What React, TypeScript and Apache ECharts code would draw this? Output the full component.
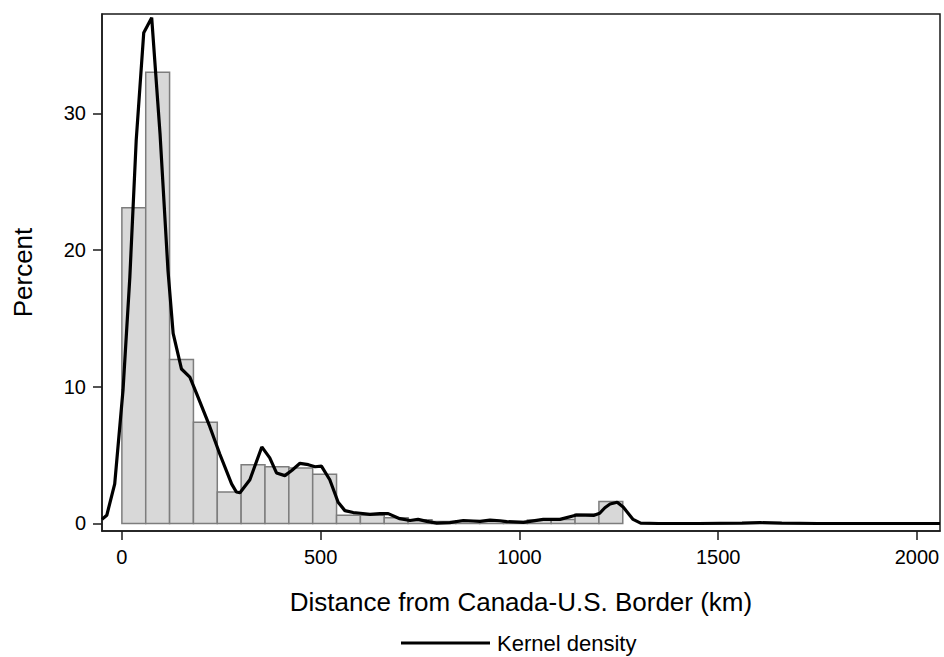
import React, { useEffect, useRef } from "react";
import * as echarts from "echarts";

// Histogram bins: 60 km wide, starting at 0 km
const binWidth = 60;
const binStart = 0;
const binPercent = [
  23.1, 33.0, 12.0, 7.4, 2.3, 4.3, 4.15, 4.05, 3.6, 0.6, 0.6, 0.42, 0.27,
  0.14, 0.2, 0.2, 0.15, 0.25, 0.3, 0.7, 1.6,
];

// Kernel density curve (km, percent scale)
const kernelKm = [
  -50, -38, -18, 3, 20, 36, 55, 75, 96, 116, 129, 150, 171, 188, 221, 246, 276,
  288, 297, 322, 352, 372, 389, 410, 428, 448, 469, 486, 502, 523, 544, 561,
  582, 600, 624, 649, 670, 699, 725, 745, 767, 792, 825, 859, 884, 901, 926,
  951, 968, 1010, 1060, 1102, 1144, 1188, 1202, 1215, 1228, 1246, 1261, 1286,
  1305, 1350, 1450, 1560, 1605, 1660, 1750, 2058,
];
const kernelPct = [
  0.3, 0.6, 2.9, 9.8, 18.0, 28.0, 35.9, 37.0, 28.5, 18.5, 13.9, 11.3, 10.7,
  9.5, 7.1, 5.1, 2.9, 2.3, 2.25, 3.2, 5.6, 4.8, 3.7, 3.5, 3.9, 4.4, 4.3, 4.15,
  4.2, 3.2, 1.55, 0.94, 0.8, 0.75, 0.67, 0.72, 0.72, 0.35, 0.22, 0.3, 0.15,
  0.03, 0.06, 0.22, 0.18, 0.15, 0.24, 0.2, 0.14, 0.08, 0.3, 0.3, 0.62, 0.6,
  0.75, 1.15, 1.42, 1.55, 1.2, 0.3, 0.03, 0.0, 0.0, 0.02, 0.06, 0.02, 0.0, 0.0,
];

const xTicks = [0, 500, 1000, 1500, 2000];
const yTicks = [0, 10, 20, 30];

const FONT = "'Liberation Sans', Arial, sans-serif";

export default function App() {
  const ref = useRef<HTMLDivElement>(null);

  useEffect(() => {
    if (!ref.current) return;
    const chart = echarts.init(ref.current, undefined, { renderer: "svg" });

    const histData = binPercent.map((p, i) => [
      binStart + i * binWidth,
      binStart + (i + 1) * binWidth,
      p,
    ]);
    const kernelData = kernelKm.map((k, i) => [k, kernelPct[i]]);

    chart.setOption({
      animation: false,
      backgroundColor: "#ffffff",
      textStyle: { fontFamily: FONT, color: "#000" },
      grid: {
        left: 102,
        right: 4,
        top: 14,
        bottom: 126,
        show: true,
        borderColor: "#1a1a1a",
        borderWidth: 1.5,
        backgroundColor: "transparent",
      },
      legend: {
        data: [
          {
            name: "Kernel density",
            icon: "rect",
            itemStyle: { color: "#000", borderWidth: 0 },
          },
        ],
        left: 401,
        top: 632,
        padding: 0,
        itemWidth: 89,
        itemHeight: 3,
        itemGap: 10,
        textStyle: {
          fontFamily: FONT,
          fontSize: 22,
          color: "#000",
          padding: [0, 0, 0, 2],
        },
      },
      xAxis: {
        type: "value",
        min: -50,
        max: 2058,
        name: "Distance from Canada-U.S. Border (km)",
        nameLocation: "middle",
        nameGap: 58,
        nameTextStyle: { fontFamily: FONT, fontSize: 26, color: "#000" },
        splitLine: { show: false },
        axisLine: { onZero: false, lineStyle: { color: "#1a1a1a", width: 1.5 } },
        axisTick: {
          show: true,
          length: 9,
          customValues: xTicks,
          lineStyle: { color: "#1a1a1a", width: 1.5 },
        },
        axisLabel: {
          customValues: xTicks,
          formatter: (v: number) => String(v),
          margin: 16,
          fontFamily: FONT,
          fontSize: 20,
          color: "#000",
        },
      },
      yAxis: {
        type: "value",
        min: -0.55,
        max: 37.27,
        name: "Percent",
        nameLocation: "middle",
        nameRotate: 90,
        nameGap: 66,
        nameTextStyle: { fontFamily: FONT, fontSize: 26, color: "#000" },
        splitLine: { show: false },
        axisLine: { onZero: false, lineStyle: { color: "#1a1a1a", width: 1.5 } },
        axisTick: {
          show: true,
          length: 9,
          customValues: yTicks,
          lineStyle: { color: "#1a1a1a", width: 1.5 },
        },
        axisLabel: {
          customValues: yTicks,
          formatter: (v: number) => String(v),
          margin: 16,
          fontFamily: FONT,
          fontSize: 20,
          color: "#000",
        },
      },
      series: [
        {
          name: "Histogram",
          type: "custom",
          data: histData,
          encode: { x: [0, 1], y: 2 },
          clip: true,
          renderItem: (params: any, api: any) => {
            const base = api.coord([api.value(0), 0]);
            const top = api.coord([api.value(1), api.value(2)]);
            return {
              type: "rect",
              shape: {
                x: base[0],
                y: top[1],
                width: top[0] - base[0],
                height: base[1] - top[1],
              },
              style: {
                fill: "#d8d8d8",
                stroke: "#7d7d7d",
                lineWidth: 1.5,
              },
            };
          },
        },
        {
          name: "Kernel density",
          type: "line",
          data: kernelData,
          symbol: "none",
          showSymbol: false,
          smooth: false,
          clip: true,
          lineStyle: { color: "#000", width: 3.2 },
          itemStyle: { color: "#000" },
        },
      ],
    });

    return () => chart.dispose();
  }, []);

  return (
    <div
      ref={ref}
      style={{ position: "fixed", left: 0, top: 0, width: 944, height: 657 }}
    />
  );
}
